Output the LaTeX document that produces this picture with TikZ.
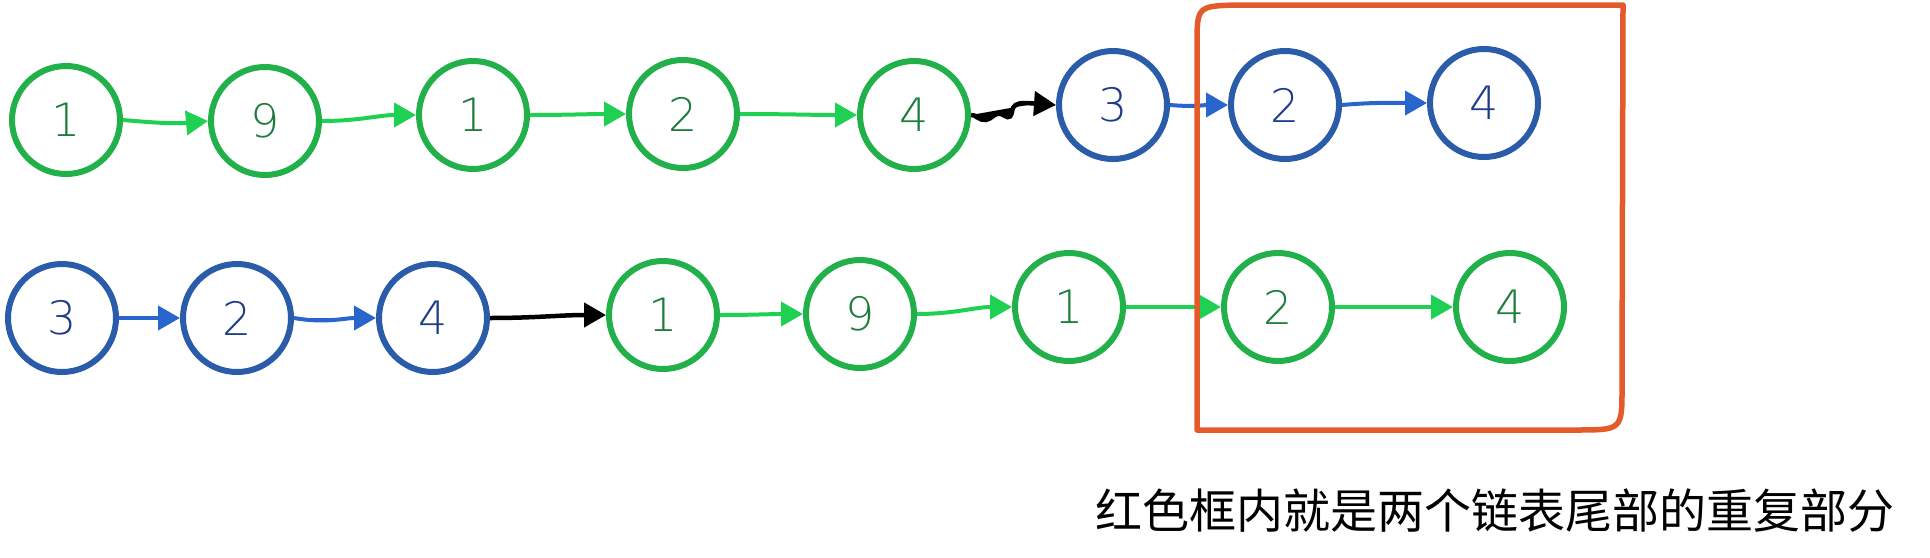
\documentclass[tikz,border=0pt]{standalone}
\usepackage{fontspec}
\newfontfamily\numfont{DejaVu Sans ExtraLight}
\newfontfamily\cjk{Noto Sans CJK SC}
\usetikzlibrary{arrows.meta}
\definecolor{gcirc}{HTML}{22B04B}
\definecolor{garr}{HTML}{1ED152}
\definecolor{gtext}{HTML}{1E7D3C}
\definecolor{bcirc}{HTML}{2A5CAA}
\definecolor{barr}{HTML}{2865CC}
\definecolor{btext}{HTML}{1F3C88}
\definecolor{redbox}{HTML}{E35B2A}
\begin{document}
\begin{tikzpicture}[x=1pt,y=-1pt,
  listnode/.style={circle, line width=6pt, minimum size=108pt, inner sep=0pt,
    font=\numfont\fontsize{46}{46}\selectfont},
  gnode/.style={listnode, draw=gcirc, text=gtext},
  bnode/.style={listnode, draw=bcirc, text=btext},
  tip/.style={-{Triangle[length=22pt,width=24pt]}},
  garrow/.style={tip, draw=garr, fill=garr, line width=4pt},
  barrow/.style={tip, draw=barr, fill=barr, line width=4pt},
  karrow/.style={tip, draw=black, fill=black, line width=4.5pt},
  boxline/.style={draw=redbox, line width=5.5pt, line join=round}
]
\useasboundingbox (0,0) rectangle (1930,557);

% top list
\node[gnode] (a1) at (66,120) {1};
\node[gnode] (a2) at (265,121) {9};
\node[gnode] (a3) at (473,115) {1};
\node[gnode] (a4) at (683,114) {2};
\node[gnode] (a5) at (914,115) {4};
\node[bnode] (a6) at (1113,105) {3};
\node[bnode] (a7) at (1285,105) {2};
\node[bnode] (a8) at (1484,103) {4};

% bottom list
\node[bnode] (b1) at (62,318) {3};
\node[bnode] (b2) at (237,318) {2};
\node[bnode] (b3) at (433,318) {4};
\node[gnode] (b4) at (663,315) {1};
\node[gnode] (b5) at (860,314) {9};
\node[gnode] (b6) at (1069,307) {1};
\node[gnode] (b7) at (1278,307) {2};
\node[gnode] (b8) at (1510,307) {4};

% top connectors
\draw[garrow] (a1.east) to[out=-5,in=185] (a2.west);
\draw[garrow] (a2.east) to[out=0,in=180] (a3.west);
\draw[garrow] (a3.east) to[out=0,in=180] (a4.west);
\draw[garrow] (a4.east) to[out=0,in=180] (a5.west);
\draw[karrow] (a5.east) .. controls (975,114) and (979,121) .. (986,120)
  .. controls (992,119) and (995,112) .. (1001,114)
  .. controls (1006,116) and (1010,121) .. (1012,112)
  .. controls (1013,105) and (1016,103) .. (1026,103) -- (a6.west);
\draw[barrow] (a6.east) to[out=-5,in=180] (a7.west);
\draw[barrow] (a7.east) to[out=5,in=180] (a8.west);

% bottom connectors
\draw[barrow] (b1.east) -- (b2.west);
\draw[barrow] (b2.east) to[out=-10,in=180] (b3.west);
\draw[karrow] (b3.east) to[out=0,in=180] (b4.west);
\draw[garrow] (b4.east) to[out=0,in=180] (b5.west);
\draw[garrow] (b5.east) to[out=0,in=180] (b6.west);
\draw[garrow] (b6.east) -- (b7.west);
\draw[garrow] (b7.east) to[out=0,in=180] (b8.west);

% red frame
\draw[boxline] (1197,430) -- (1197,46) .. controls (1197,6) .. (1238,5)
  -- (1623,5) -- (1622,388) .. controls (1622,430) .. (1575,430) -- cycle;

% caption
\node[anchor=west, inner sep=0pt, font=\cjk\fontsize{47}{47}\selectfont] (cap)
  at (1095,511) {红色框内就是两个链表尾部的重复部分};
\end{tikzpicture}
\end{document}
